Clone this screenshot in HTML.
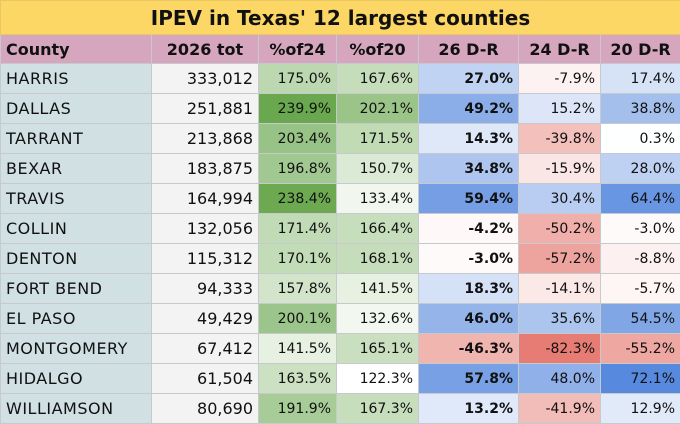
<!DOCTYPE html>
<html><head><meta charset="utf-8"><style>
body{margin:0;width:680px;height:423px;overflow:hidden;background:#fff;font-family:"DejaVu Sans","Liberation Sans",sans-serif;}
table{border-collapse:collapse;table-layout:fixed;width:680px;}
td{border:1px solid #c6cacc;padding:0 5px;height:30px;font-size:15px;white-space:nowrap;overflow:hidden;color:#111;text-align:right;box-sizing:border-box;}
tr.t td{height:34px;background:#fdd766;text-align:center;font-size:20px;font-weight:bold;border-color:#e8c860;}
tr.h td{background:#d5a6bd;font-weight:bold;font-size:16px;text-align:center;height:29px;}
tr.h td:first-child{text-align:left;}
td.c{background:#d0e0e3;text-align:left;font-size:16px;letter-spacing:0.5px;}
td.n{background:#f3f3f3;font-size:16px;}
td.b{font-weight:bold;font-size:17px;}
td.g,td.r{font-size:14px;}
</style></head><body>
<table>
<colgroup><col style="width:151px"><col style="width:107px"><col style="width:78px"><col style="width:82px"><col style="width:100px"><col style="width:82px"><col style="width:80px"></colgroup>
<tr class="t"><td colspan="7">IPEV in Texas' 12 largest counties</td></tr>
<tr class="h"><td>County</td><td>2026 tot</td><td>%of24</td><td>%of20</td><td>26 D-R</td><td>24 D-R</td><td>20 D-R</td></tr>
<tr><td class="c">HARRIS</td><td class="n">333,012</td><td class="g">175.0%</td><td class="g">167.6%</td><td class="r b">27.0%</td><td class="r">-7.9%</td><td class="r">17.4%</td></tr>
<tr><td class="c">DALLAS</td><td class="n">251,881</td><td class="g">239.9%</td><td class="g">202.1%</td><td class="r b">49.2%</td><td class="r">15.2%</td><td class="r">38.8%</td></tr>
<tr><td class="c">TARRANT</td><td class="n">213,868</td><td class="g">203.4%</td><td class="g">171.5%</td><td class="r b">14.3%</td><td class="r">-39.8%</td><td class="r">0.3%</td></tr>
<tr><td class="c">BEXAR</td><td class="n">183,875</td><td class="g">196.8%</td><td class="g">150.7%</td><td class="r b">34.8%</td><td class="r">-15.9%</td><td class="r">28.0%</td></tr>
<tr><td class="c">TRAVIS</td><td class="n">164,994</td><td class="g">238.4%</td><td class="g">133.4%</td><td class="r b">59.4%</td><td class="r">30.4%</td><td class="r">64.4%</td></tr>
<tr><td class="c">COLLIN</td><td class="n">132,056</td><td class="g">171.4%</td><td class="g">166.4%</td><td class="r b">-4.2%</td><td class="r">-50.2%</td><td class="r">-3.0%</td></tr>
<tr><td class="c">DENTON</td><td class="n">115,312</td><td class="g">170.1%</td><td class="g">168.1%</td><td class="r b">-3.0%</td><td class="r">-57.2%</td><td class="r">-8.8%</td></tr>
<tr><td class="c">FORT BEND</td><td class="n">94,333</td><td class="g">157.8%</td><td class="g">141.5%</td><td class="r b">18.3%</td><td class="r">-14.1%</td><td class="r">-5.7%</td></tr>
<tr><td class="c">EL PASO</td><td class="n">49,429</td><td class="g">200.1%</td><td class="g">132.6%</td><td class="r b">46.0%</td><td class="r">35.6%</td><td class="r">54.5%</td></tr>
<tr><td class="c">MONTGOMERY</td><td class="n">67,412</td><td class="g">141.5%</td><td class="g">165.1%</td><td class="r b">-46.3%</td><td class="r">-82.3%</td><td class="r">-55.2%</td></tr>
<tr><td class="c">HIDALGO</td><td class="n">61,504</td><td class="g">163.5%</td><td class="g">122.3%</td><td class="r b">57.8%</td><td class="r">48.0%</td><td class="r">72.1%</td></tr>
<tr><td class="c">WILLIAMSON</td><td class="n">80,690</td><td class="g">191.9%</td><td class="g">167.3%</td><td class="r b">13.2%</td><td class="r">-41.9%</td><td class="r">12.9%</td></tr>
</table>
<script>
function mix(a,b,t){t=Math.max(0,Math.min(1,t));return 'rgb('+a.map((x,i)=>Math.round(x+(b[i]-x)*t)).join(',')+')';}
var W=[255,255,255];
document.querySelectorAll('td.g').forEach(function(c){var v=parseFloat(c.textContent);c.style.background=mix(W,[106,168,79],(v-122.3)/(239.9-122.3));});
document.querySelectorAll('td.r').forEach(function(c){var v=parseFloat(c.textContent);
c.style.background=v>=0?mix(W,[87,137,222],v/72.1):mix(W,[230,124,115],-v/82.3);});
</script>
</body></html>
